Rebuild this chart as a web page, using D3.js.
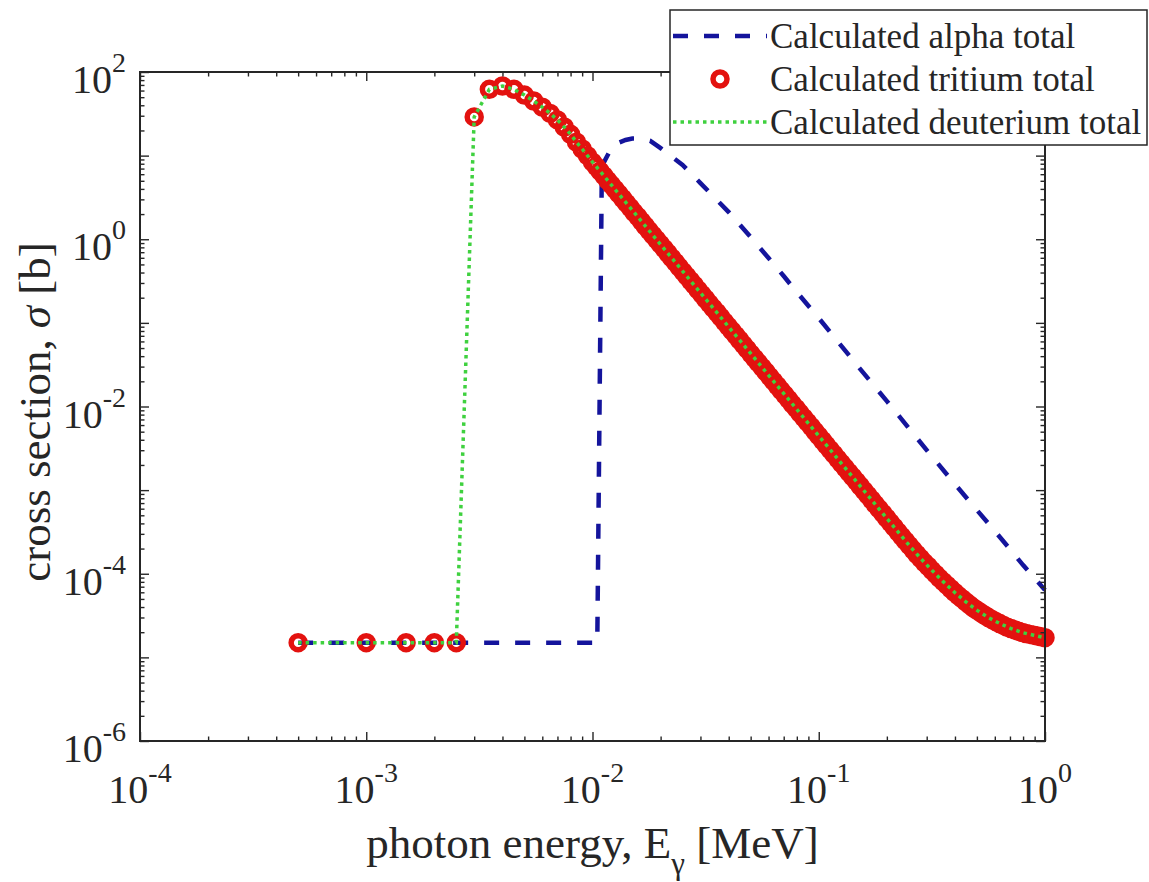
<!DOCTYPE html>
<html>
<head>
<meta charset="utf-8">
<script src="https://cdn.jsdelivr.net/npm/d3@7"></script>
<style>
  html, body { margin: 0; padding: 0; background: #fff; }
  svg { display: block; font-family: "Liberation Serif", "Times New Roman", serif; }
</style>
</head>
<body>
<svg id="chart" width="1149" height="882"></svg>
<script>
// ---- Data: photon energy [MeV] and cross section [b] ----

// alpha total (dashed blue)
const alphaEnergy = [0.0005, 0.0105, 0.011, 0.012, 0.013, 0.014, 0.015, 0.016, 0.017, 0.018, 0.02, 0.025, 0.03,
  0.04, 0.05, 0.06, 0.07, 0.08, 0.1, 0.12, 0.15, 0.2, 0.25, 0.3, 0.4, 0.5, 0.6, 0.7, 0.8, 0.9, 1.0];
const alphaSigma = [1.5e-5, 1.5e-5, 7.5, 11.7, 14.2, 15.4, 16.0, 16.0, 15.6, 15.0, 12.3, 7.73, 4.70,
  2.11, 1.06, 0.596, 0.363, 0.233, 0.114, 0.0622, 0.0296, 0.0116, 0.00552, 0.00301, 0.00118, 5.77e-4,
  3.24e-4, 1.97e-4, 1.27e-4, 8.85e-5, 6.37e-5];

// tritium total (open red circles)
const tritiumEnergy = [
  0.0005, 0.001, 0.0015, 0.002, 0.0025, 0.003, 0.0035, 0.004, 0.0045, 0.005, 0.0055, 0.006, 0.0065,
  0.007, 0.0075, 0.008, 0.0085, 0.009, 0.0095,
  0.01, 0.01039, 0.0108, 0.01122, 0.01166, 0.01212, 0.01259, 0.01308, 0.01359, 0.01413, 0.01468,
  0.01525, 0.01585, 0.01647, 0.01711, 0.01778, 0.01848, 0.0192, 0.01995, 0.02073, 0.02154, 0.02239,
  0.02326, 0.02418, 0.02512, 0.0261, 0.02712, 0.02818, 0.02929, 0.03043, 0.03162, 0.03286, 0.03415,
  0.03548, 0.03687, 0.03831, 0.03981, 0.04137, 0.04299, 0.04467, 0.04642, 0.04823, 0.05012, 0.05208,
  0.05412, 0.05623, 0.05843, 0.06072, 0.0631, 0.06556, 0.06813, 0.07079, 0.07356, 0.07644, 0.07943,
  0.08254, 0.08577, 0.08913, 0.09261, 0.09624,
  0.1, 0.1039, 0.108, 0.1122, 0.1166, 0.1212, 0.1259, 0.1308, 0.1359, 0.1413, 0.1468, 0.1525, 0.1585,
  0.1647, 0.1711, 0.1778, 0.1848, 0.192, 0.1995, 0.2073, 0.2154, 0.2239, 0.2326, 0.2418, 0.2512,
  0.261, 0.2712, 0.2818, 0.2929, 0.3043, 0.3162, 0.3286, 0.3415, 0.3548, 0.3687, 0.3831, 0.3981,
  0.4137, 0.4299, 0.4467, 0.4642, 0.4823, 0.5012, 0.5208, 0.5412, 0.5623, 0.5843, 0.6072, 0.631,
  0.6556, 0.6813, 0.7079, 0.7356, 0.7644, 0.7943, 0.8254, 0.8577, 0.8913, 0.9261, 0.9624, 1.0];
const tritiumSigma = [
  1.5e-5, 1.5e-5, 1.5e-5, 1.5e-5, 1.5e-5, 29, 62, 68, 62, 53, 45, 38, 32,
  26.7, 22, 18, 14.5, 12, 10,
  8.38, 7.39, 6.51, 5.75, 5.07, 4.47, 3.94, 3.48, 3.07, 2.70, 2.39,
  2.10, 1.86, 1.64, 1.44, 1.27, 1.12, 0.991, 0.874, 0.771, 0.680, 0.598,
  0.528, 0.465, 0.410, 0.362, 0.319, 0.282, 0.248, 0.219, 0.193, 0.170, 0.150,
  0.133, 0.117, 0.103, 0.0909, 0.0802, 0.0708, 0.0624, 0.0549, 0.0484, 0.0427, 0.0377,
  0.0332, 0.0293, 0.0259, 0.0228, 0.0201, 0.0177, 0.0156, 0.0138, 0.0122, 0.0107, 0.00947,
  0.00835, 0.00736, 0.00650, 0.00573, 0.00505,
  0.00445, 0.00392, 0.00346, 0.00305, 0.00269, 0.00237, 0.00209, 0.00185, 0.00163, 0.00144, 0.00127, 0.00112, 9.85e-4,
  8.69e-4, 7.67e-4, 6.76e-4, 5.96e-4, 5.26e-4, 4.64e-4, 4.09e-4, 3.61e-4, 3.17e-4, 2.80e-4, 2.47e-4, 2.18e-4,
  1.93e-4, 1.71e-4, 1.53e-4, 1.36e-4, 1.23e-4, 1.10e-4, 9.89e-5, 8.89e-5, 8.05e-5, 7.31e-5, 6.62e-5, 6.01e-5,
  5.48e-5, 5.04e-5, 4.62e-5, 4.25e-5, 3.91e-5, 3.65e-5, 3.41e-5, 3.19e-5, 2.99e-5, 2.82e-5, 2.67e-5, 2.54e-5,
  2.41e-5, 2.29e-5, 2.21e-5, 2.13e-5, 2.05e-5, 1.98e-5, 1.93e-5, 1.88e-5, 1.84e-5, 1.80e-5, 1.76e-5, 1.72e-5];

// deuterium total (dotted green)
const deuteriumEnergy = [0.0005, 0.001, 0.0015, 0.002, 0.0025, 0.003, 0.0035, 0.004, 0.0045, 0.005, 0.0055,
  0.006, 0.0065, 0.007, 0.0075, 0.008, 0.0085, 0.009, 0.0095, 0.01, 0.02, 0.05, 0.1, 0.2, 0.2512, 0.2818,
  0.3162, 0.3548, 0.3981, 0.4467, 0.5012, 0.5623, 0.631, 0.7079, 0.7943, 0.8913, 1.0];
const deuteriumSigma = [1.5e-5, 1.5e-5, 1.5e-5, 1.5e-5, 1.5e-5, 29, 62, 68, 62, 53, 45,
  38, 32, 26.7, 22, 18, 14.5, 12, 10, 8.38, 0.865, 0.0431, 0.00445, 4.59e-4, 2.18e-4, 1.53e-4,
  1.10e-4, 8.05e-5, 6.01e-5, 4.62e-5, 3.65e-5, 2.99e-5, 2.54e-5, 2.21e-5, 1.98e-5, 1.84e-5, 1.72e-5];

// axis ticks
const xMajorTicks = [1e-4, 1e-3, 1e-2, 1e-1, 1];
const xTickExponents = ["-4", "-3", "-2", "-1", "0"];
const yMajorTicks = [1e-6, 1e-5, 1e-4, 1e-3, 1e-2, 1e-1, 1, 1e1, 1e2];
const yLabelTicks = [1e-6, 1e-4, 1e-2, 1, 1e2];
const yTickExponents = ["-6", "-4", "-2", "0", "2"];

const seriesNames = ["Calculated alpha total", "Calculated tritium total", "Calculated deuterium total"];
const xTitle = ["photon energy, E", "\u03b3", " [MeV]"];
const yTitle = ["cross section, ", "\u03c3", " [b]"];

// ---- Layout & styles ----
const plot = { left: 140, right: 1045, top: 72, bottom: 741 };
const ink = "#262626";
const colAlpha = "#14149c";
const colTritium = "#e3120f";
const colDeut = "#3fd13f";
const markerR = 7, markerW = 5.5;

const svg = d3.select("#chart");

const x = d3.scaleLog().domain([1e-4, 1]).range([plot.left, plot.right]);
const y = d3.scaleLog().domain([1e-6, 1e2]).range([plot.bottom, plot.top]);

function minorsOf(majors) {
  const out = [];
  for (let i = 0; i < majors.length - 1; i++)
    for (let m = 2; m <= 9; m++) out.push(majors[i] * m);
  return out;
}
const xMinorTicks = minorsOf(xMajorTicks);
const yMinorTicks = minorsOf(yMajorTicks);

// ---- Series ----
const zip = (a, b) => a.map((v, i) => [v, b[i]]);
const line = d3.line().x(d => x(d[0])).y(d => y(d[1]));

svg.append("path")
  .datum(zip(alphaEnergy, alphaSigma))
  .attr("d", line)
  .attr("fill", "none")
  .attr("stroke", colAlpha)
  .attr("stroke-width", 4.5)
  .attr("stroke-dasharray", "15 16");

svg.append("g")
  .selectAll("circle")
  .data(zip(tritiumEnergy, tritiumSigma))
  .join("circle")
  .attr("cx", d => x(d[0]))
  .attr("cy", d => y(d[1]))
  .attr("r", markerR)
  .attr("fill", "none")
  .attr("stroke", colTritium)
  .attr("stroke-width", markerW);

svg.append("path")
  .datum(zip(deuteriumEnergy, deuteriumSigma))
  .attr("d", line)
  .attr("fill", "none")
  .attr("stroke", colDeut)
  .attr("stroke-width", 3.5)
  .attr("stroke-dasharray", "3.5 4");

// ---- Axes (ticks point inward on all four sides) ----
function tickAxis(gen, scale, values, size, tx, ty) {
  const g = svg.append("g")
    .attr("transform", `translate(${tx},${ty})`)
    .call(gen(scale).tickValues(values).tickSize(-size).tickSizeOuter(0).tickFormat(""));
  g.select(".domain").remove();
  g.selectAll(".tick line").attr("stroke", ink).attr("stroke-width", 1.4);
  return g;
}
[[xMajorTicks, 9], [xMinorTicks, 4.5]].forEach(([vals, s]) => {
  tickAxis(d3.axisBottom, x, vals, s, 0, plot.bottom);
  tickAxis(d3.axisTop, x, vals, s, 0, plot.top);
});
[[yMajorTicks, 9], [yMinorTicks, 4.5]].forEach(([vals, s]) => {
  tickAxis(d3.axisLeft, y, vals, s, plot.left, 0);
  tickAxis(d3.axisRight, y, vals, s, plot.right, 0);
});

svg.append("rect")
  .attr("x", plot.left).attr("y", plot.top)
  .attr("width", plot.right - plot.left).attr("height", plot.bottom - plot.top)
  .attr("fill", "none").attr("stroke", ink).attr("stroke-width", 2);

// tick labels as 10^n
function powerLabel(sel, exp) {
  sel.append("tspan").text("10");
  sel.append("tspan").attr("dy", -21).attr("font-size", 28).text(exp);
}
xMajorTicks.forEach((v, i) => {
  svg.append("text")
    .attr("x", x(v)).attr("y", plot.bottom + 62)
    .attr("text-anchor", "middle").attr("font-size", 40).attr("fill", ink)
    .call(powerLabel, xTickExponents[i]);
});
yLabelTicks.forEach((v, i) => {
  svg.append("text")
    .attr("x", plot.left - 14).attr("y", y(v) + 21)
    .attr("text-anchor", "end").attr("font-size", 40).attr("fill", ink)
    .call(powerLabel, yTickExponents[i]);
});

// axis titles
const xt = svg.append("text")
  .attr("x", (plot.left + plot.right) / 2).attr("y", 858)
  .attr("text-anchor", "middle").attr("font-size", 45).attr("fill", ink);
xt.append("tspan").text(xTitle[0]);
xt.append("tspan").attr("dy", 16).attr("font-size", 31).text(xTitle[1]);
xt.append("tspan").attr("dy", -16).text(xTitle[2]);

const yt = svg.append("text")
  .attr("transform", "translate(50,412) rotate(-90)")
  .attr("text-anchor", "middle").attr("font-size", 45).attr("fill", ink);
yt.append("tspan").text(yTitle[0]);
yt.append("tspan").attr("font-style", "italic").text(yTitle[1]);
yt.append("tspan").text(yTitle[2]);

// ---- Legend ----
const lg = svg.append("g");
lg.append("rect")
  .attr("x", 670).attr("y", 10).attr("width", 477).attr("height", 135)
  .attr("fill", "#fff").attr("stroke", ink).attr("stroke-width", 1.5);
const rowY = [36, 79, 122];
lg.append("line").attr("x1", 673).attr("x2", 767).attr("y1", rowY[0]).attr("y2", rowY[0])
  .attr("stroke", colAlpha).attr("stroke-width", 4.5).attr("stroke-dasharray", "15 16");
lg.append("circle").attr("cx", 720).attr("cy", rowY[1]).attr("r", markerR)
  .attr("fill", "none").attr("stroke", colTritium).attr("stroke-width", markerW);
lg.append("line").attr("x1", 673).attr("x2", 767).attr("y1", rowY[2]).attr("y2", rowY[2])
  .attr("stroke", colDeut).attr("stroke-width", 3.5).attr("stroke-dasharray", "3.5 4");
seriesNames.forEach((name, i) => {
  lg.append("text").attr("x", 770).attr("y", rowY[i] + 12)
    .attr("font-size", 35).attr("fill", ink).text(name);
});
</script>
</body>
</html>
